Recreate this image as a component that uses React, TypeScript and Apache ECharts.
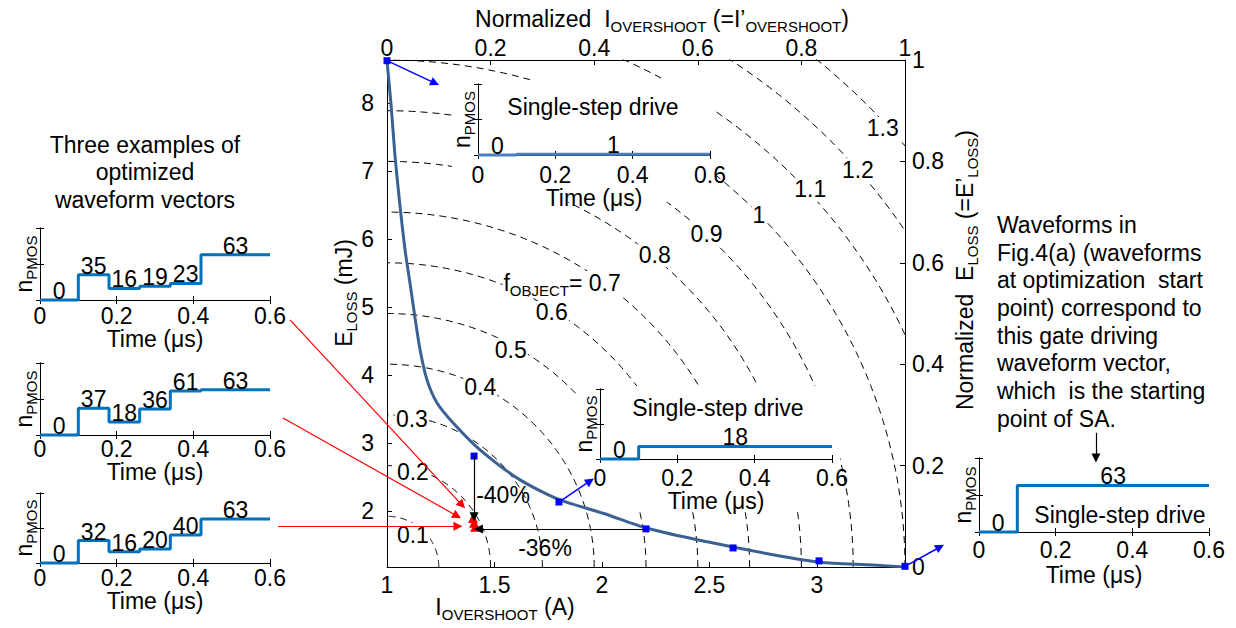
import React, { useEffect, useRef } from "react";
import * as echarts from "echarts";

const FONT = "'Liberation Sans', Arial, Helvetica, sans-serif";
const FS = 23;
const SFS = 15;

// ---------- main plot data ----------
const currentMin = 1;
const currentMax = 3.41;
const lossMin = 1.18;
const lossMax = 8.63;
const currentTicks = [1, 1.5, 2, 2.5, 3];
const lossTicks = [2, 3, 4, 5, 6, 7, 8];

const paretoCurrent = [1.0, 1.019, 1.037, 1.06, 1.084, 1.107, 1.13, 1.154, 1.186, 1.233, 1.307, 1.433, 1.619, 1.805, 2.005, 2.21, 2.49, 2.796, 3.015, 3.26, 3.41];
const paretoLoss = [8.62, 7.97, 7.23, 6.5, 5.84, 5.35, 4.85, 4.37, 3.93, 3.59, 3.3, 2.9, 2.46, 2.165, 1.97, 1.75, 1.55, 1.36, 1.25, 1.21, 1.18];

const saCurrent = [1.0, 1.405, 1.8, 2.205, 2.61, 3.01, 3.41];
const saLoss = [8.62, 2.81, 2.135, 1.74, 1.46, 1.27, 1.19];

const optCurrent = [1.4, 1.405, 1.41];
const optLoss = [1.9, 1.83, 1.77];

const contourLevels = [0.1, 0.2, 0.3, 0.4, 0.5, 0.6, 0.7, 0.8, 0.9, 1.0, 1.1, 1.2, 1.3];
const contourLabelX = [0.05, 0.05, 0.048, 0.18, 0.239, 0.318, 0.338, 0.517, 0.617, 0.718, 0.817, 0.909, 0.957];
const contourLabelY = [0.063, 0.187, 0.29, 0.355, 0.428, 0.501, 0.56, 0.615, 0.655, 0.694, 0.744, 0.783, 0.864];

const reductionArrows = [
  [[1.405, 2.81], [1.405, 1.92]],
  [[2.205, 1.74], [1.425, 1.74]],
];
const moveArrows = [
  [[1.0, 8.62], [1.223, 8.29]],
  [[1.8, 2.135], [1.945, 2.444]],
  [[3.41, 1.19], [3.573, 1.474]],
];
const linkArrows = [
  [[0.549, 4.81], [1.349, 2.09]],
  [[0.516, 3.37], [1.326, 1.93]],
  [[0.493, 1.78], [1.33, 1.78]],
];

// ---------- inset waveform data ----------
const stepTimes = [0, 0.1, 0.18, 0.26, 0.34, 0.42, 0.6];
const waveA = [0, 35, 16, 19, 23, 63];
const waveB = [0, 37, 18, 36, 61, 63];
const waveC = [0, 32, 16, 20, 40, 63];
const singleTimes = [0, 0.1, 0.6];
const singleTop = [0, 1];
const singleMid = [0, 18];
const singleRight = [0, 63];
const startArrow = [[0.305, 134], [0.305, 100]];
const timeTicks = { min: 0, max: 0.6, interval: 0.2 };

const rich = {
  m: { fontSize: FS, fontFamily: FONT, color: "#000", lineHeight: 24, verticalAlign: "top" },
  s: { fontSize: SFS, fontFamily: FONT, color: "#000", lineHeight: 16, padding: [12, 0, 0, 0], verticalAlign: "top" },
};
const grich = {
  m: { fontSize: FS, fontFamily: FONT, fill: "#000", color: "#000", lineHeight: 24, verticalAlign: "top" },
  s: { fontSize: SFS, fontFamily: FONT, fill: "#000", color: "#000", lineHeight: 16, padding: [12, 0, 0, 0], verticalAlign: "top" },
};

function buildOption() {
  const axisLine = { show: true, lineStyle: { color: "#000", width: 1 } };
  const tick = (len: number) => ({ show: true, inside: true, length: len, lineStyle: { color: "#000", width: 1 } });
  const lbl = (margin: number) => ({ fontSize: FS, color: "#000", fontFamily: FONT, margin });

  const grids: any[] = [{ left: 387, top: 60, width: 518, height: 507, show: false, z: 0 }];
  const xAxes: any[] = [
    { gridIndex: 0, type: "value", position: "bottom", min: currentMin, max: currentMax, axisLine, axisTick: { ...tick(5), customValues: currentTicks }, axisLabel: { ...lbl(6), customValues: currentTicks }, splitLine: { show: false } },
    { gridIndex: 0, type: "value", position: "top", min: 0, max: 1, interval: 0.2, axisLine, axisTick: tick(5), axisLabel: lbl(1), splitLine: { show: false } },
  ];
  const yAxes: any[] = [
    { gridIndex: 0, type: "value", position: "left", min: lossMin, max: lossMax, axisLine, axisTick: { ...tick(5), customValues: lossTicks }, axisLabel: { ...lbl(13), customValues: lossTicks }, splitLine: { show: false } },
    { gridIndex: 0, type: "value", position: "right", min: 0, max: 1, interval: 0.2, axisLine, axisTick: tick(5), axisLabel: lbl(7), splitLine: { show: false } },
  ];

  const insets = [
    { left: 478, top: 84, width: 232, height: 71, margin: 8, gap: 23, times: singleTimes, values: singleTop, color: "#4a7fc0" },
    { left: 600, top: 389, width: 232, height: 70, margin: 7, gap: 27, times: singleTimes, values: singleMid, color: "#0072BD" },
    { left: 979, top: 458, width: 230, height: 74, margin: 6, gap: 31, times: singleTimes, values: singleRight, color: "#0072BD" },
    { left: 40, top: 228, width: 230, height: 72, margin: 4, gap: 27, times: stepTimes, values: waveA, color: "#0072BD" },
    { left: 40, top: 363, width: 230, height: 72, margin: 2, gap: 22, times: stepTimes, values: waveB, color: "#0072BD" },
    { left: 40, top: 493, width: 230, height: 70, margin: 3, gap: 21, times: stepTimes, values: waveC, color: "#0072BD" },
  ];

  const series: any[] = [];

  // contours on normalized axes
  contourLevels.forEach((r) => {
    const pts: number[][] = [];
    for (let d = 0; d <= 90; d += 1) {
      const a = (d * Math.PI) / 180;
      pts.push([r * Math.cos(a), r * Math.sin(a)]);
    }
    series.push({
      type: "line", xAxisIndex: 1, yAxisIndex: 1, data: pts, showSymbol: false, silent: true, z: 1,
      lineStyle: { color: "#000", width: 1, type: [7, 5] },
    });
  });
  series.push({
    type: "scatter", xAxisIndex: 1, yAxisIndex: 1, symbolSize: 0, silent: true, z: 2,
    itemStyle: { color: "#000", opacity: 1 },
    data: contourLevels.map((r, i) => [contourLabelX[i], contourLabelY[i], r]),
    label: {
      show: true, position: "inside", backgroundColor: "#fff", padding: [0, 1],
      fontSize: FS, color: "#000", fontFamily: FONT, textBorderWidth: 0, rich,
      formatter: (p: any) => (Math.abs(p.value[2] - 0.7) < 1e-9 ? "{m|f}{s|OBJECT}{m|= 0.7}" : "{m|" + String(p.value[2]) + "}"),
    },
  });

  series.push({
    type: "line", xAxisIndex: 0, yAxisIndex: 0, data: paretoCurrent.map((c, i) => [c, paretoLoss[i]]),
    showSymbol: false, smooth: 0.25, z: 4, silent: true, lineStyle: { color: "#3b6192", width: 3 },
  });
  series.push({
    type: "scatter", xAxisIndex: 0, yAxisIndex: 0, symbol: "rect", symbolSize: 7, z: 5, silent: true,
    itemStyle: { color: "#0000ff", opacity: 1 }, data: saCurrent.map((c, i) => [c, saLoss[i]]),
  });
  series.push({
    type: "scatter", xAxisIndex: 0, yAxisIndex: 0, symbol: "triangle", symbolSize: 10, z: 5, silent: true,
    itemStyle: { color: "#ff0000", opacity: 1 }, data: optCurrent.map((c, i) => [c, optLoss[i]]),
  });
  const arrowSeries = (arr: number[][][], color: string, width: number, xi: number, yi: number) => ({
    type: "lines", coordinateSystem: "cartesian2d", xAxisIndex: xi, yAxisIndex: yi, clip: false, silent: true, z: 12,
    symbol: ["none", "triangle"], symbolSize: 9,
    lineStyle: { color, width, opacity: 1, curveness: 0 },
    itemStyle: { color },
    data: arr.map((c) => ({ coords: c })),
  });
  series.push(arrowSeries(reductionArrows, "#000", 1.2, 0, 0));
  series.push(arrowSeries(moveArrows, "#0000ff", 1.5, 0, 0));
  series.push(arrowSeries(linkArrows, "#ff0000", 1.2, 0, 0));

  insets.forEach((ins, k) => {
    const gi = k + 1;
    const ai = 2 + 2 * k;
    grids.push({ left: ins.left, top: ins.top, width: ins.width, height: ins.height, show: true, backgroundColor: "#fff", borderWidth: 0, z: 7 });
    xAxes.push({
      gridIndex: gi, type: "value", position: "bottom", ...timeTicks, axisLine, axisTick: tick(4), axisLabel: lbl(ins.margin),
      splitLine: { show: false }, name: "Time (μs)", nameLocation: "middle", nameGap: ins.gap,
      nameTextStyle: { fontSize: FS, color: "#000", fontFamily: FONT }, z: 8,
    });
    xAxes.push({ gridIndex: gi, type: "value", position: "top", ...timeTicks, axisLine, axisTick: tick(4), axisLabel: { show: false }, splitLine: { show: false }, z: 8 });
    yAxes.push({
      gridIndex: gi, type: "value", position: "left", min: 0, max: 100, interval: 50, axisLine, axisTick: tick(4), axisLabel: { show: false },
      splitLine: { show: false }, name: "{m|n}{s|PMOS}", nameLocation: "middle", nameRotate: 90, nameGap: 4,
      nameTextStyle: { rich }, z: 8,
    });
    yAxes.push({ gridIndex: gi, type: "value", position: "right", min: 0, max: 100, interval: 50, axisLine, axisTick: tick(4), axisLabel: { show: false }, splitLine: { show: false }, z: 8 });

    const pts = ins.values.map((v, i) => [ins.times[i], v]);
    pts.push([ins.times[ins.times.length - 1], ins.values[ins.values.length - 1]]);
    series.push({
      type: "line", xAxisIndex: ai, yAxisIndex: ai, data: pts, step: "end", showSymbol: false, clip: false, silent: true, z: 9,
      lineStyle: { color: ins.color, width: 3 },
    });
    series.push({
      type: "scatter", xAxisIndex: ai, yAxisIndex: ai, symbolSize: 0, silent: true, z: 10, itemStyle: { color: "#000", opacity: 1 },
      data: ins.values.map((v, i) => [(ins.times[i] + ins.times[i + 1]) / 2, v]),
      label: { show: true, position: "inside", offset: [0, -9], fontSize: FS, color: "#000", fontFamily: FONT, textBorderWidth: 0, formatter: (p: any) => String(p.value[1]) },
    });
  });
  // arrow pointing at the right-hand inset (starting point of SA)
  series.push(arrowSeries([startArrow], "#000", 1.2, 6, 6));

  const text = (x: number, y: number, t: string, extra: any = {}) => ({
    type: "text", x, y, z: 20, silent: true, rotation: extra.rotation || 0,
    style: {
      text: t, fontSize: FS, fontFamily: FONT, fill: "#000",
      align: extra.align || "center", textAlign: extra.align || "center",
      verticalAlign: extra.valign || "middle", textVerticalAlign: extra.valign || "middle",
      lineHeight: extra.lineHeight || 24, rich: grich,
    },
  });
  const whiteRect = (x: number, y: number, w: number, h: number) => ({
    type: "rect", shape: { x, y, width: w, height: h }, style: { fill: "#fff" }, z: 3, silent: true,
  });

  const graphic = [
    whiteRect(452, 80, 264, 122),
    whiteRect(578, 386, 262, 80),
    whiteRect(596, 466, 244, 42),
    text(662, 19, "{m|Normalized  I}{s|OVERSHOOT}{m| (=I’}{s|OVERSHOOT}{m|)}"),
    text(505, 607, "{m|I}{s|OVERSHOOT}{m| (A)}"),
    text(344, 293, "{m|E}{s|LOSS}{m| (mJ)}", { rotation: Math.PI / 2 }),
    text(965, 270, "{m|Normalized  E}{s|LOSS}{m| (=E’}{s|LOSS}{m|)}", { rotation: Math.PI / 2 }),
    text(145, 131, "Three examples of\noptimized\nwaveform vectors", { valign: "top", lineHeight: 27.5 }),
    text(997, 211, "Waveforms in\nFig.4(a) (waveforms\nat optimization  start\npoint) correspond to\nthis gate driving\nwaveform vector,\nwhich  is the starting\npoint of SA.", { align: "left", valign: "top", lineHeight: 27.7 }),
    text(593, 107, "Single-step drive"),
    text(718, 408, "Single-step drive"),
    text(1120, 515, "Single-step drive"),
    text(503, 495, "-40%"),
    text(545, 548, "-36%"),
  ];

  return {
    animation: false,
    backgroundColor: "#fff",
    textStyle: { fontFamily: FONT, color: "#000" },
    grid: grids,
    xAxis: xAxes,
    yAxis: yAxes,
    series,
    graphic,
  };
}

export default function App() {
  const ref = useRef<HTMLDivElement>(null);
  useEffect(() => {
    const chart = echarts.init(ref.current as HTMLDivElement, null, { renderer: "svg" });
    chart.setOption(buildOption() as any);
    return () => chart.dispose();
  }, []);
  return <div ref={ref} style={{ position: "absolute", left: 0, top: 0, width: 1236, height: 628 }} />;
}
